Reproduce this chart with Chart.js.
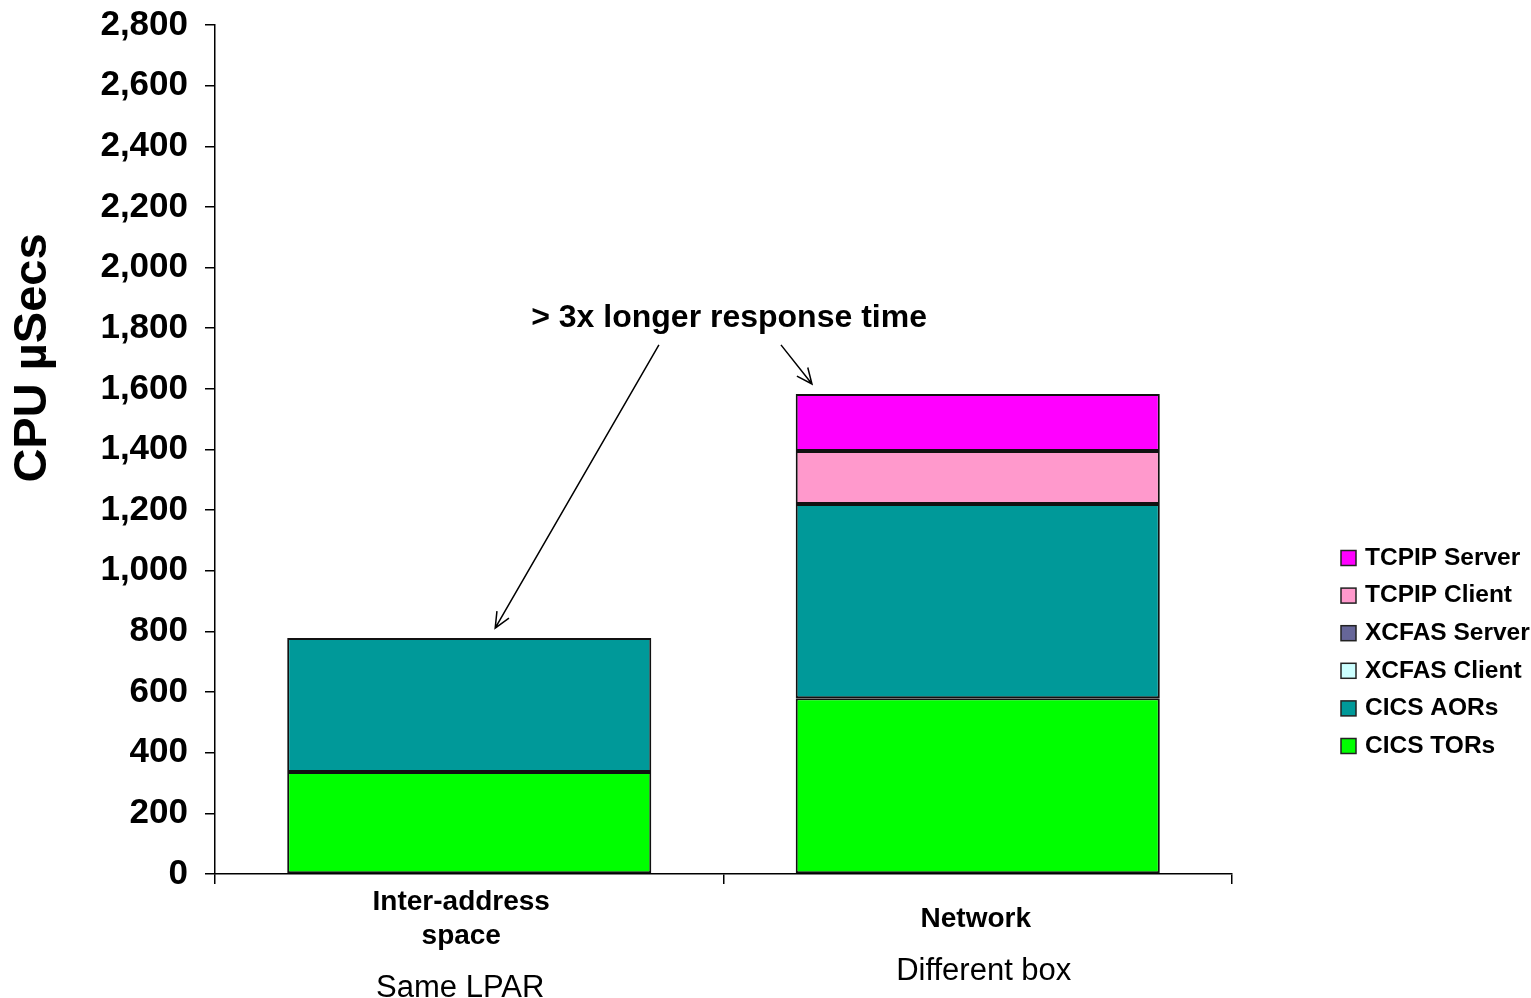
<!DOCTYPE html>
<html>
<head>
<meta charset="utf-8">
<script src="https://cdn.jsdelivr.net/npm/chart.js@4.4.1/dist/chart.umd.min.js"></script>
<style>
  html, body { margin: 0; padding: 0; background: #fff; }
  #wrap { width: 1531px; height: 998px; position: relative; }
</style>
</head>
<body>
<div id="wrap"><canvas id="chart"></canvas></div>
<script>
// chart data
const categories = [['Inter-address', 'space'], ['Network']];
const subLabels = ['Same LPAR', 'Different box'];
const seriesNames = ['CICS TORs', 'CICS AORs', 'XCFAS Client', 'XCFAS Server', 'TCPIP Client', 'TCPIP Server'];
const seriesColors = ['#00ff00', '#009999', '#ccffff', '#666699', '#ff99cc', '#ff00ff'];
const cicsTors = [336, 580];
const cicsAors = [442, 640];
const xcfasClient = [0, 0];
const xcfasServer = [0, 0];
const tcpipClient = [0, 175];
const tcpipServer = [0, 188];
const yTicks = [0, 200, 400, 600, 800, 1000, 1200, 1400, 1600, 1800, 2000, 2200, 2400, 2600, 2800];

// annotation anchored in data space (category index, value)
const note = { text: '> 3x longer response time', x: 0.511, y: 1834 };
const arrows = [
  { from: [0.373, 1745], to: [0.051, 811] },
  { from: [0.613, 1745], to: [0.674, 1616] },
];

const FONT = '"Liberation Sans", Arial, sans-serif';
const seriesValues = [cicsTors, cicsAors, xcfasClient, xcfasServer, tcpipClient, tcpipServer];

const extras = {
  id: 'extras',
  afterDraw(chart) {
    const ctx = chart.ctx;
    const xs = chart.scales.x, ys = chart.scales.y;
    const area = chart.chartArea;
    ctx.save();
    ctx.fillStyle = '#000';

    // y axis title
    ctx.save();
    ctx.translate(33, 358);
    ctx.rotate(-Math.PI / 2);
    ctx.font = 'bold 47px ' + FONT;
    ctx.textAlign = 'center';
    ctx.textBaseline = 'middle';
    ctx.fillText('CPU \u00b5Secs', 0, 0);
    ctx.restore();

    // category labels + sub labels
    categories.forEach((lines, i) => {
      const cx = xs.getPixelForValue(i) - (i === 0 ? 8 : 2);
      const mid = area.bottom + 45;
      const lh = 34;
      const first = mid - (lines.length - 1) * lh / 2;
      ctx.font = 'bold 28px ' + FONT;
      ctx.textAlign = 'center';
      ctx.textBaseline = 'middle';
      lines.forEach((t, k) => ctx.fillText(t, cx, first + k * lh));
      const last = first + (lines.length - 1) * lh;
      ctx.font = '31px ' + FONT;
      ctx.fillText(subLabels[i], cx + (i === 0 ? -1 : 8), last + 52);
    });

    // annotation text
    ctx.font = 'bold 32px ' + FONT;
    ctx.textAlign = 'center';
    ctx.textBaseline = 'middle';
    ctx.fillText(note.text, xs.getPixelForValue(note.x), ys.getPixelForValue(note.y));

    // arrows
    ctx.strokeStyle = '#000';
    ctx.lineWidth = 1.5;
    arrows.forEach(a => {
      const x1 = xs.getPixelForValue(a.from[0]), y1 = ys.getPixelForValue(a.from[1]);
      const x2 = xs.getPixelForValue(a.to[0]), y2 = ys.getPixelForValue(a.to[1]);
      const ang = Math.atan2(y2 - y1, x2 - x1);
      const hl = 17, hw = 0.42;
      ctx.beginPath();
      ctx.moveTo(x1, y1);
      ctx.lineTo(x2, y2);
      ctx.moveTo(x2 - hl * Math.cos(ang - hw), y2 - hl * Math.sin(ang - hw));
      ctx.lineTo(x2, y2);
      ctx.lineTo(x2 - hl * Math.cos(ang + hw), y2 - hl * Math.sin(ang + hw));
      ctx.stroke();
    });

    // legend (reverse order, like the stack)
    const lx = 1341, ly0 = 558, step = 37.6;
    ctx.font = 'bold 24.5px ' + FONT;
    ctx.textAlign = 'left';
    ctx.textBaseline = 'middle';
    chart.data.datasets.slice().reverse().forEach((ds, k) => {
      const y = ly0 + k * step;
      ctx.fillStyle = ds.backgroundColor;
      ctx.fillRect(lx, y - 7.5, 15, 15);
      ctx.strokeStyle = '#222';
      ctx.lineWidth = 1.5;
      ctx.strokeRect(lx, y - 7.5, 15, 15);
      ctx.fillStyle = '#000';
      ctx.fillText(ds.label, lx + 24, y);
    });
    ctx.restore();
  }
};

new Chart(document.getElementById('chart'), {
  type: 'bar',
  data: {
    labels: categories.map(c => c.join(' ')),
    datasets: seriesNames.map((name, i) => ({
      label: name,
      data: seriesValues[i],
      backgroundColor: seriesColors[i],
      borderColor: '#111',
      borderWidth: 2,
      borderSkipped: false,
      categoryPercentage: 1,
      barPercentage: 0.716,
    })),
  },
  options: {
    responsive: true, maintainAspectRatio: false, animation: false,
    layout: { padding: { top: 0, right: 299, left: 0, bottom: 0 } },
    plugins: { legend: { display: false }, tooltip: { enabled: false } },
    scales: {
      x: {
        stacked: true,
        grid: { display: true, drawOnChartArea: false, drawTicks: true, tickLength: 10, color: '#000', lineWidth: 1.5, offset: true },
        border: { color: '#000', width: 1.5 },
        ticks: { display: false },
        afterFit(s) { s.height = 124; },
      },
      y: {
        stacked: true,
        min: 0, max: 2800,
        afterBuildTicks(s) { s.ticks = yTicks.map(v => ({ value: v })); },
        grid: { drawOnChartArea: false, drawTicks: true, tickLength: 10, color: '#000', lineWidth: 1.5 },
        border: { color: '#000', width: 1.5 },
        ticks: {
          color: '#000', padding: 17,
          font: { family: FONT, size: 35, weight: 'bold' },
          callback: v => v.toLocaleString('en-US'),
        },
        afterFit(s) { s.width = 215; s.paddingTop = 25; s.paddingBottom = 0; },
      },
    },
  },
  plugins: [extras],
});
</script>
</body>
</html>
